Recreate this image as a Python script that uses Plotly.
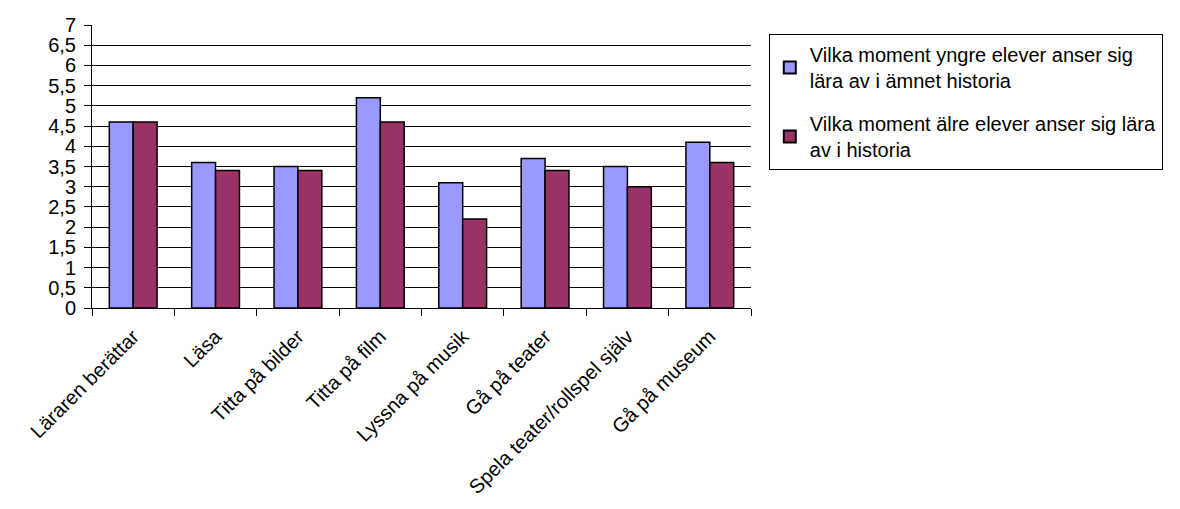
import plotly.graph_objects as go

categories = ["Läraren berättar", "Läsa", "Titta på bilder", "Titta på film",
              "Lyssna på musik", "Gå på teater", "Spela teater/rollspel själv", "Gå på museum"]
yngre = [4.6, 3.6, 3.5, 5.2, 3.1, 3.7, 3.5, 4.1]
aldre = [4.6, 3.4, 3.4, 4.6, 2.2, 3.4, 3.0, 3.6]
series_names = ["Vilka moment yngre elever anser sig<br>lära av i ämnet historia",
                "Vilka moment älre elever anser sig lära<br>av i historia"]
y_tickvals = [0, 0.5, 1, 1.5, 2, 2.5, 3, 3.5, 4, 4.5, 5, 5.5, 6, 6.5, 7]
y_ticktext = ["0", "0,5", "1", "1,5", "2", "2,5", "3", "3,5", "4", "4,5", "5", "5,5", "6", "6,5", "7"]

font_family = "Liberation Sans, Arial, sans-serif"

fig = go.Figure()
fig.add_trace(go.Bar(x=categories, y=yngre, name=series_names[0], legendgroup="g1",
                     marker=dict(color="#9999FF", line=dict(color="#000000", width=1.5))))
fig.add_trace(go.Bar(x=categories, y=aldre, name=series_names[1], legendgroup="g2",
                     marker=dict(color="#993366", line=dict(color="#000000", width=1.5))))

fig.update_layout(
    width=1180, height=509,
    margin=dict(l=92, r=429, t=25, b=201),
    paper_bgcolor="white", plot_bgcolor="white",
    barmode="group", bargap=0.42, bargroupgap=0,
    font=dict(family=font_family, size=20, color="#000000"),
    legend=dict(x=1.027, y=0.968, xanchor="left", yanchor="top",
                bordercolor="#000000", borderwidth=1,
                font=dict(family=font_family, size=20, color="#000000"),
                itemsizing="constant", tracegroupgap=14, itemwidth=30),
    showlegend=True,
)
fig.update_xaxes(type="category", tickson="boundaries", ticks="outside", ticklen=7,
                 tickcolor="#000000", showline=True, linecolor="#000000", linewidth=1,
                 tickangle=-45, ticklabelstandoff=8,
                 tickfont=dict(family=font_family, size=20, color="#000000"),
                 showgrid=False, automargin=False)
fig.update_yaxes(range=[0, 7], tickvals=y_tickvals, ticktext=y_ticktext,
                 ticks="outside", ticklen=7, tickcolor="#000000",
                 showline=True, linecolor="#000000", linewidth=1,
                 showgrid=True, gridcolor="#000000", gridwidth=1,
                 zeroline=False, automargin=False, ticklabelstandoff=4,
                 tickfont=dict(family=font_family, size=20, color="#000000"))

fig.write_html("out.html")
